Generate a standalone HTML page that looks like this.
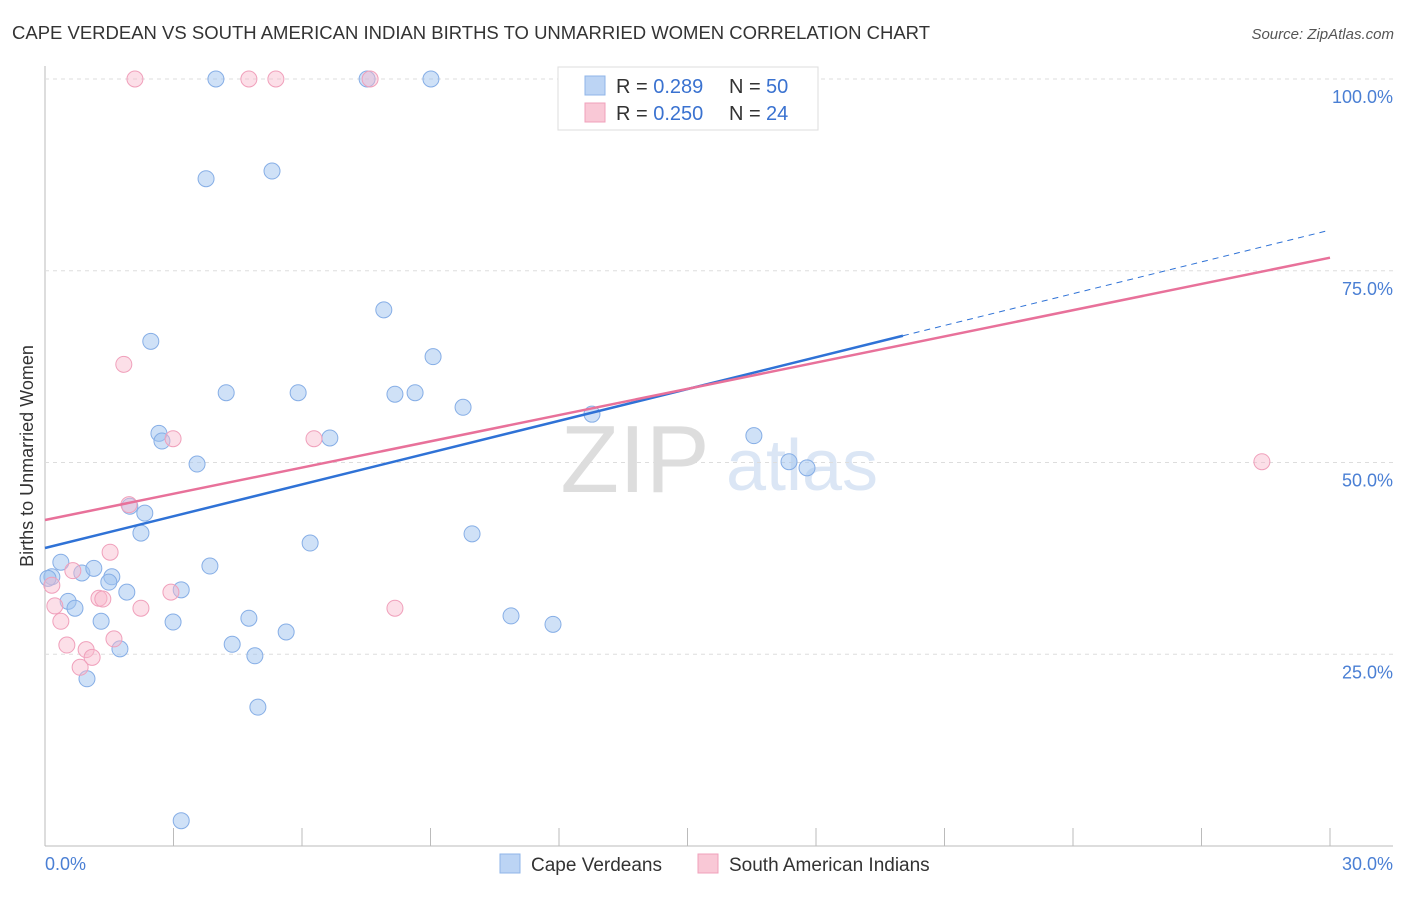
<!DOCTYPE html>
<html><head><meta charset="utf-8"><style>
body{margin:0;background:#fff;font-family:"Liberation Sans",sans-serif;}
svg text{font-family:"Liberation Sans",sans-serif;}
</style></head><body>
<svg id="chart" width="1406" height="892">
<text x="12" y="39" font-size="18" fill="#333" textLength="918" lengthAdjust="spacingAndGlyphs">CAPE VERDEAN VS SOUTH AMERICAN INDIAN BIRTHS TO UNMARRIED WOMEN CORRELATION CHART</text>
<text x="1394" y="39" font-size="15" fill="#555" font-style="italic" text-anchor="end">Source: ZipAtlas.com</text>
<text x="635" y="492" font-size="96" fill="#ddd" font-family="Liberation Serif" text-anchor="middle">ZIP</text>
<text x="802" y="490" font-size="72" fill="#dbe6f5" text-anchor="middle">atlas</text>
<text transform="translate(33,456) rotate(-90)" font-size="18" fill="#333" text-anchor="middle">Births to Unmarried Women</text>
<g id="grid"></g><g id="pts"></g><g id="lines"></g>
<g>
<rect x="558" y="67" width="260" height="63" fill="#fff" stroke="#ddd"/>
<rect x="585" y="76" width="20" height="19" fill="#bcd4f4" stroke="#8fb5e8"/>
<rect x="585" y="103" width="20" height="19" fill="#f9c8d6" stroke="#f0a0bb"/>
<text x="616" y="93" font-size="20" fill="#333">R = <tspan fill="#3a72d0">0.289</tspan><tspan x="729">N = </tspan><tspan x="766" fill="#3a72d0">50</tspan></text>
<text x="616" y="120" font-size="20" fill="#333">R = <tspan fill="#3a72d0">0.250</tspan><tspan x="729">N = </tspan><tspan x="766" fill="#3a72d0">24</tspan></text>
</g>
<g>
<rect x="500" y="854" width="20" height="19" fill="#bcd4f4" stroke="#8fb5e8"/>
<text x="531" y="871" font-size="19" fill="#333">Cape Verdeans</text>
<rect x="698" y="854" width="20" height="19" fill="#f9c8d6" stroke="#f0a0bb"/>
<text x="729" y="871" font-size="19" fill="#333">South American Indians</text>
</g>
<text x="45" y="870" font-size="18" fill="#4a7fd4">0.0%</text>
<text x="1393" y="870" font-size="18" fill="#4a7fd4" text-anchor="end">30.0%</text>
</svg>
<script>
const blueX=[3.99,7.52,9.01,3.76,5.30,7.91,2.47,9.06,4.23,5.91,8.17,8.64,9.76,2.66,2.73,6.65,3.55,12.77,16.55,17.37,17.79,1.98,2.33,2.24,9.97,6.19,0.37,0.16,0.86,1.14,1.56,1.49,1.91,3.18,3.85,0.54,0.70,1.31,2.99,4.76,10.88,11.86,5.63,4.37,4.90,1.75,0.98,4.97,3.18,0.07];
const blueY=[100,100,100,87.0,88.0,69.9,65.8,63.8,59.1,59.1,58.9,59.1,57.2,53.8,52.8,53.2,49.8,56.3,53.5,50.1,49.3,44.3,43.4,40.8,40.7,39.5,37.0,35.1,35.6,36.2,35.1,34.4,33.1,33.4,36.5,31.9,31.0,29.3,29.2,29.7,30.0,28.9,27.9,26.3,24.8,25.7,21.8,18.1,3.3,34.9];
const pinkX=[2.10,4.76,5.39,7.59,1.84,2.99,6.28,1.96,1.52,0.65,0.16,0.23,0.37,1.26,1.35,2.94,2.24,8.17,0.51,0.96,1.10,0.82,1.61,28.41];
const pinkY=[100,100,100,100,62.8,53.1,53.1,44.5,38.3,35.9,34.0,31.3,29.3,32.3,32.2,33.1,31.0,31.0,26.2,25.6,24.6,23.3,27.0,50.1];
const blueTrend=[38.85,80.3];
const pinkTrend=[42.5,76.7];
const yTicks=[25,50,75,100];
const yTickLabels=["25.0%","50.0%","75.0%","100.0%"];
const xTicks=[0,3,6,9,12,15,18,21,24,27,30];
const NS="http://www.w3.org/2000/svg";
const sx=v=>45+v/30*1285, sy=v=>846-v/100*767;
function mk(tag,attrs,parent){const e=document.createElementNS(NS,tag);for(const k in attrs)e.setAttribute(k,attrs[k]);document.getElementById(parent).appendChild(e);return e;}
mk('line',{x1:45,y1:66,x2:45,y2:846,stroke:'#bbb'},'grid');
mk('line',{x1:45,y1:846,x2:1393,y2:846,stroke:'#bbb'},'grid');
yTicks.forEach((t,i)=>{
 const l=mk('line',{x1:45,x2:1393,y1:sy(t),y2:sy(t),stroke:'#ddd','stroke-dasharray':'4,4'},'grid');
 
 
 const tx=mk('text',{x:1393,y:sy(t)+24,'font-size':18,fill:'#4a7fd4','text-anchor':'end'},'grid');
 tx.textContent=yTickLabels[i];
 
 
});
xTicks.forEach(t=>{
 const l=mk('line',{x1:sx(t),x2:sx(t),y1:846,y2:828,stroke:'#bbb'},'grid');
 
 
});
blueX.forEach((x,i)=>{
 const c=mk('circle',{cx:sx(x),cy:sy(blueY[i]),r:8,fill:'rgba(160,196,240,0.5)',stroke:'#86aee6','stroke-width':1},'pts');
 
 
});
pinkX.forEach((x,i)=>{
 const c=mk('circle',{cx:sx(x),cy:sy(pinkY[i]),r:8,fill:'rgba(248,185,205,0.45)',stroke:'#f0a0bb','stroke-width':1},'pts');
 
 
});
const bAt=x=>blueTrend[0]+(blueTrend[1]-blueTrend[0])*x/30;
const xs=20.03;
const b1=mk('line',{x1:sx(0),y1:sy(bAt(0)),x2:sx(xs),y2:sy(bAt(xs)),stroke:'#2f72d6','stroke-width':2.5},'lines');


const b2=mk('line',{x1:sx(xs),y1:sy(bAt(xs)),x2:sx(30),y2:sy(bAt(30)),stroke:'#2f72d6','stroke-width':1,'stroke-dasharray':'6,5'},'lines');


const p1=mk('line',{x1:sx(0),y1:sy(pinkTrend[0]),x2:sx(30),y2:sy(pinkTrend[1]),stroke:'#e8719a','stroke-width':2.5},'lines');


</script>
</body></html>
